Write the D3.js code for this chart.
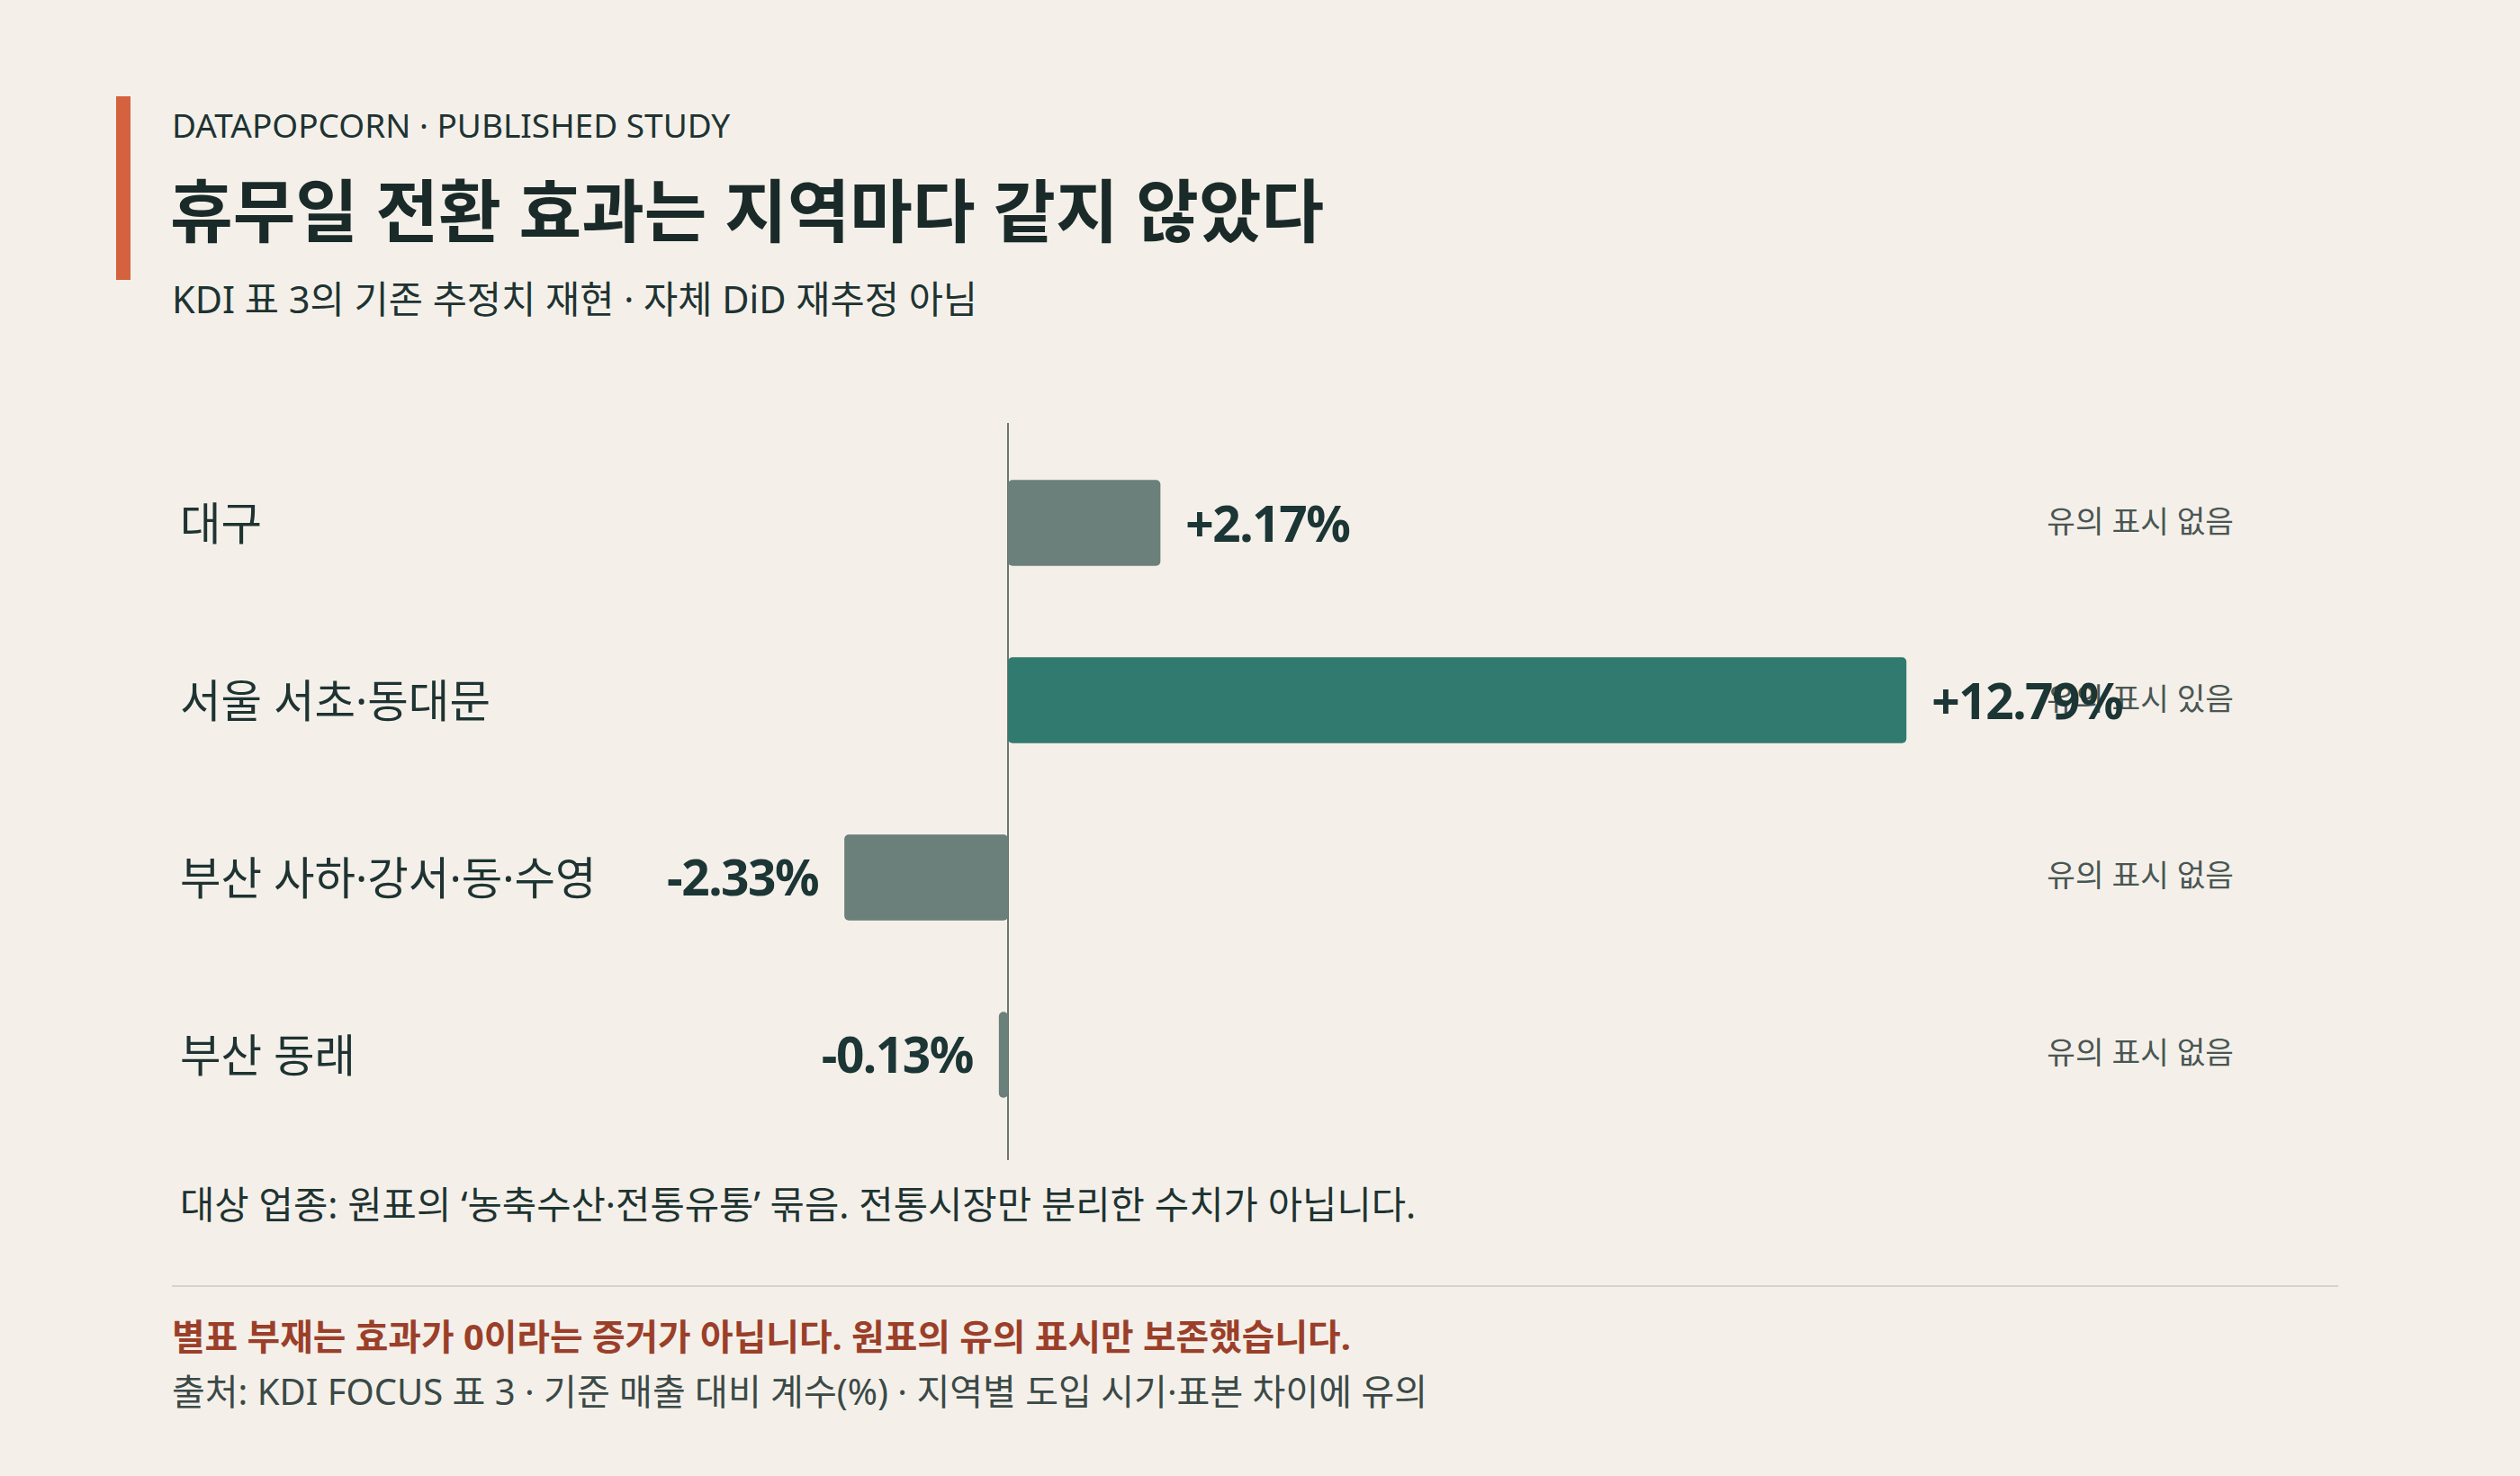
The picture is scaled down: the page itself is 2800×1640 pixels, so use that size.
<!DOCTYPE html>
<html>
<head>
<meta charset="utf-8">
<script src="https://cdn.jsdelivr.net/npm/d3@7"></script>
<style>
  html, body { margin: 0; padding: 0; background: #f4f0e9; }
  svg { display: block; font-family: "Noto Sans", "Noto Sans CJK KR", sans-serif; }
</style>
</head>
<body>
<div id="chart-area"></div>
<script>
// 데이터 (KDI 표 3)
const regions = ["대구", "서울 서초·동대문", "부산 사하·강서·동·수영", "부산 동래"];
const effects = [2.17, 12.79, -2.33, -0.13];
const sigLabels = ["유의 표시 없음", "유의 표시 있음", "유의 표시 없음", "유의 표시 없음"];
const significant = [false, true, false, false];

const rows = regions.map((r, i) => ({
  region: r, value: effects[i], sig: sigLabels[i], isSig: significant[i]
}));

const width = 2800;
const height = 1640;
const fmt = v => (v >= 0 ? "+" : "-") + Math.abs(v).toFixed(2) + "%";

const svg = d3.select("#chart-area")
  .append("svg")
  .attr("width", width)
  .attr("height", height);

svg.append("rect").attr("width", width).attr("height", height).attr("fill", "#f4f0e9");

// 헤더
svg.append("rect")
  .attr("x", 129).attr("y", 107)
  .attr("width", 16).attr("height", 204)
  .attr("fill", "#d4623f");

svg.append("text")
  .attr("x", 191).attr("y", 153)
  .attr("font-size", 37)
  .attr("fill", "#1e3332")
  .text("DATAPOPCORN · PUBLISHED STUDY");

svg.append("text")
  .attr("x", 189).attr("y", 263)
  .attr("font-size", 75.7)
  .attr("font-weight", 700)
  .attr("fill", "#1a2a29")
  .text("휴무일 전환 효과는 지역마다 같지 않았다");

svg.append("text")
  .attr("x", 191).attr("y", 348)
  .attr("font-size", 41.5)
  .attr("fill", "#1e3332")
  .text("KDI 표 3의 기존 추정치 재현 · 자체 DiD 재추정 아님");

// 스케일
const x = d3.scaleLinear()
  .domain([-8, 16])
  .range([1120 - 8 * 78.05, 1120 + 16 * 78.05]);

const y = d3.scaleBand()
  .domain(regions)
  .range([484, 1269])
  .paddingInner(0.515)
  .paddingOuter(0.25);

// 기준선
svg.append("line")
  .attr("x1", x(0)).attr("x2", x(0))
  .attr("y1", 470).attr("y2", 1289)
  .attr("stroke", "#6b7670")
  .attr("stroke-width", 2);

const g = svg.append("g");

g.selectAll(".bar")
  .data(rows)
  .enter()
  .append("rect")
  .attr("class", "bar")
  .attr("x", d => Math.min(x(0), x(d.value)))
  .attr("y", d => y(d.region))
  .attr("width", d => Math.abs(x(d.value) - x(0)))
  .attr("height", y.bandwidth())
  .attr("rx", 5)
  .attr("fill", d => d.isSig ? "#317a6f" : "#6b7f7b");

g.selectAll(".cat")
  .data(rows)
  .enter()
  .append("text")
  .attr("class", "cat")
  .attr("x", 200)
  .attr("y", d => y(d.region) + y.bandwidth() / 2)
  .attr("dominant-baseline", "central")
  .attr("font-size", 49.5)
  .attr("fill", "#1e3332")
  .text(d => d.region);

g.selectAll(".sig")
  .data(rows)
  .enter()
  .append("text")
  .attr("class", "sig")
  .attr("x", 2482)
  .attr("y", d => y(d.region) + y.bandwidth() / 2 - 3)
  .attr("dominant-baseline", "central")
  .attr("text-anchor", "end")
  .attr("font-size", 34.4)
  .attr("fill", "#4a5654")
  .text(d => d.sig);

g.selectAll(".val")
  .data(rows)
  .enter()
  .append("text")
  .attr("class", "val")
  .attr("x", d => d.value >= 0 ? x(d.value) + 28 : x(d.value) - 29)
  .attr("y", d => y(d.region) + y.bandwidth() / 2 - 1)
  .attr("dominant-baseline", "central")
  .attr("text-anchor", d => d.value >= 0 ? "start" : "end")
  .attr("font-size", 55)
  .attr("font-weight", 700)
  .attr("letter-spacing", -1.5)
  .attr("fill", "#1c3535")
  .text(d => fmt(d.value));

// 하단 주석
svg.append("text")
  .attr("x", 200).attr("y", 1354)
  .attr("font-size", 41.7)
  .attr("fill", "#1e3332")
  .text("대상 업종: 원표의 ‘농축수산·전통유통’ 묶음. 전통시장만 분리한 수치가 아닙니다.");

svg.append("line")
  .attr("x1", 191).attr("x2", 2598)
  .attr("y1", 1429).attr("y2", 1429)
  .attr("stroke", "#d3d4ca")
  .attr("stroke-width", 2);

svg.append("text")
  .attr("x", 191).attr("y", 1500)
  .attr("font-size", 39.8)
  .attr("font-weight", 700)
  .attr("fill", "#9b3f2a")
  .text("별표 부재는 효과가 0이라는 증거가 아닙니다. 원표의 유의 표시만 보존했습니다.");

svg.append("text")
  .attr("x", 191).attr("y", 1561)
  .attr("font-size", 40)
  .attr("fill", "#3b4947")
  .text("출처: KDI FOCUS 표 3 · 기준 매출 대비 계수(%) · 지역별 도입 시기·표본 차이에 유의");
</script>
</body>
</html>
